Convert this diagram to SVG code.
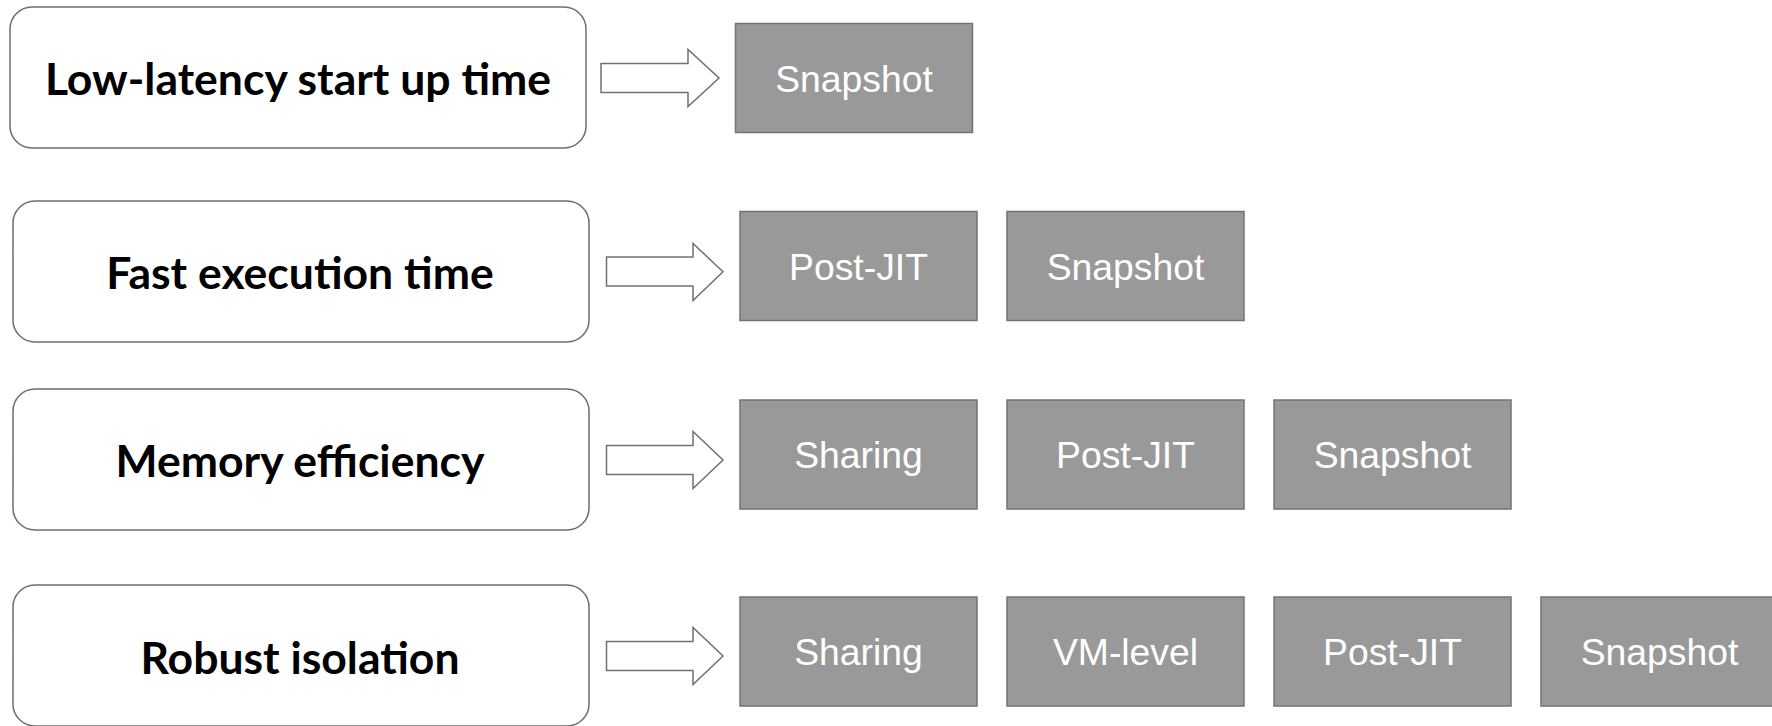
<svg xmlns="http://www.w3.org/2000/svg" width="1772" height="726" viewBox="0 0 1772 726">
  <style>
    .goal rect { fill: #ffffff; stroke: #6e6e6e; stroke-width: 1.5; }
    .goal text { font-family: Lato, "Liberation Sans", sans-serif; font-weight: bold; font-size: 44.5px; fill: #000000; text-anchor: middle; }
    .tech rect { fill: #999999; stroke: #6f7378; stroke-width: 1.5; }
    .tech text { font-family: "Liberation Sans", Arial, sans-serif; font-size: 37.3px; fill: #ffffff; text-anchor: middle; }
    #connectors path { fill: #ffffff; stroke: #707070; stroke-width: 1.5; stroke-linejoin: miter; }
  </style>

  <!-- requirement boxes -->
  <g id="goal-startup" class="goal">
    <rect x="10" y="7" width="576" height="141" rx="22" ry="22"/>
    <text x="298" y="95">Low-latency start up time</text>
  </g>
  <g id="goal-exec" class="goal">
    <rect x="13" y="201" width="576" height="141" rx="22" ry="22"/>
    <text x="300" y="289">Fast execution time</text>
  </g>
  <g id="goal-memory" class="goal">
    <rect x="13" y="389" width="576" height="141" rx="22" ry="22"/>
    <text x="300" y="477">Memory efficiency</text>
  </g>
  <g id="goal-isolation" class="goal">
    <rect x="13" y="585" width="576" height="141" rx="22" ry="22"/>
    <text x="300" y="674">Robust isolation</text>
  </g>

  <!-- block arrows -->
  <g id="connectors">
    <path d="M601,63.5 H688 V49.5 L719,78 L688,106.5 V92.5 H601 Z"/>
    <path d="M606.5,257 H693 V243.5 L723,271.7 L693,300.5 V286 H606.5 Z"/>
    <path d="M606.5,445.5 H693 V431.5 L723,460 L693,488.5 V474.5 H606.5 Z"/>
    <path d="M606.5,641.5 H693 V627.5 L723,656 L693,684.5 V670.5 H606.5 Z"/>
  </g>

  <!-- technique boxes -->
  <g id="tech-startup-snapshot" class="tech">
    <rect x="735.5" y="23.5" width="237" height="109"/>
    <text x="854" y="91.7">Snapshot</text>
  </g>

  <g id="tech-exec-postjit" class="tech">
    <rect x="740" y="211.5" width="237" height="109"/>
    <text x="858.5" y="279.7">Post-JIT</text>
  </g>
  <g id="tech-exec-snapshot" class="tech">
    <rect x="1007" y="211.5" width="237" height="109"/>
    <text x="1125.5" y="279.7">Snapshot</text>
  </g>

  <g id="tech-memory-sharing" class="tech">
    <rect x="740" y="400" width="237" height="109"/>
    <text x="858.5" y="468">Sharing</text>
  </g>
  <g id="tech-memory-postjit" class="tech">
    <rect x="1007" y="400" width="237" height="109"/>
    <text x="1125.5" y="468">Post-JIT</text>
  </g>
  <g id="tech-memory-snapshot" class="tech">
    <rect x="1274" y="400" width="237" height="109"/>
    <text x="1392.5" y="468">Snapshot</text>
  </g>

  <g id="tech-isolation-sharing" class="tech">
    <rect x="740" y="597" width="237" height="109"/>
    <text x="858.5" y="665">Sharing</text>
  </g>
  <g id="tech-isolation-vm" class="tech">
    <rect x="1007" y="597" width="237" height="109"/>
    <text x="1125.5" y="665">VM-level</text>
  </g>
  <g id="tech-isolation-postjit" class="tech">
    <rect x="1274" y="597" width="237" height="109"/>
    <text x="1392.5" y="665">Post-JIT</text>
  </g>
  <g id="tech-isolation-snapshot" class="tech">
    <rect x="1541" y="597" width="237" height="109"/>
    <text x="1659.5" y="665">Snapshot</text>
  </g>
</svg>
